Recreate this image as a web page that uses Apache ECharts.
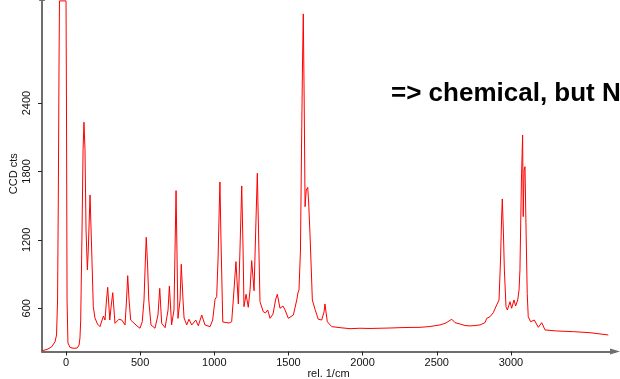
<!DOCTYPE html>
<html>
<head>
<meta charset="utf-8">
<script src="https://cdn.jsdelivr.net/npm/echarts@6/dist/echarts.min.js"></script>
<style>
html,body{margin:0;padding:0;background:#fff;}
#c{width:620px;height:379px;}
</style>
</head>
<body>
<div id="c"></div>
<script>
// Raman shift (rel. 1/cm)
var shifts = [-162,-128,-96,-74,-64,-57,-52,-47,-44,0,3,7,13,27,54,76,88,94,99,108,115,121,128,135,144,150,162,173,184,195,212,229,252,263,273,281,295,303,315,330,357,376,398,408,416,425,436,465,479,499,514,526,535,541,550,558,573,600,620,632,645,668,688,697,712,728,735,742,748,755,769,777,789,796,814,829,848,875,892,915,937,971,989,1005,1016,1025,1033,1038,1045,1057,1079,1099,1117,1128,1146,1162,1173,1185,1194,1200,1214,1229,1241,1252,1268,1281,1290,1298,1308,1330,1345,1360,1376,1396,1413,1425,1443,1454,1463,1477,1499,1533,1556,1564,1571,1581,1588,1595,1600,1606,1612,1620,1630,1637,1645,1654,1661,1679,1701,1724,1740,1746,1753,1762,1792,1848,1915,1982,2050,2117,2185,2252,2320,2387,2454,2522,2562,2601,2623,2657,2690,2724,2758,2792,2825,2837,2859,2881,2904,2920,2930,2937,2942,2949,2956,2967,2976,2994,3005,3021,3032,3046,3055,3061,3071,3079,3083,3089,3095,3101,3110,3117,3133,3158,3185,3208,3230,3309,3421,3533,3657];
// CCD counts
var counts = [228,239,263,307,366,673,1550,2778,3296,3296,2427,673,296,256,249,252,278,339,497,1287,1989,2232,1989,1287,936,1111,1594,1111,614,515,462,439,532,497,673,784,497,603,737,468,504,497,454,673,886,673,497,462,445,425,482,673,1024,1223,980,673,454,425,541,775,468,430,585,796,454,585,1111,1632,1111,512,673,986,673,515,454,504,454,497,447,541,454,439,497,679,702,1024,1462,1708,1199,480,475,471,482,673,1009,638,1111,1673,1111,614,723,609,761,1018,754,1375,1784,1287,658,570,559,585,512,550,673,723,600,594,620,585,512,541,673,734,761,1111,1989,2778,3182,2427,1491,1638,1661,1506,1258,936,673,591,504,497,568,638,568,482,439,430,421,425,423,425,427,430,432,433,440,454,471,504,474,462,449,445,449,454,474,512,526,561,629,673,1024,1375,1559,1287,936,614,585,658,600,673,620,673,761,936,1725,2120,1404,1813,1842,1375,732,526,482,497,433,474,410,401,395,386,366];
var xTicks = [0,500,1000,1500,2000,2500,3000];
var yTicks = [600,1200,1800,2400];

var data = shifts.map(function(x,i){return [x, counts[i]];});
var chart = echarts.init(document.getElementById('c'), null, {renderer:'canvas'});
var font = 'Liberation Sans, Arial, Helvetica, sans-serif';
function plain(v){return String(v);}
chart.setOption({
  animation:false,
  backgroundColor:'#ffffff',
  grid:{left:42,right:5,top:-4,bottom:27.5,containLabel:false,outerBoundsMode:'none'},
  xAxis:{
    type:'value', min:-162, max:3702,
    name:'rel. 1/cm', nameLocation:'middle', nameGap:17, nameMoveOverlap:false,
    nameTextStyle:{fontFamily:font,fontSize:11,color:'#111'},
    axisLine:{show:true,onZero:false,symbol:['none','triangle'],symbolSize:[6,10],lineStyle:{color:'#6e6e6e',width:2}},
    axisTick:{show:true,customValues:xTicks,length:4,lineStyle:{color:'#222',width:1}},
    axisLabel:{show:true,customValues:xTicks,formatter:plain,margin:6,fontFamily:font,fontSize:11,color:'#111'},
    splitLine:{show:false}
  },
  yAxis:{
    type:'value', min:221, max:3339,
    name:'CCD cts', nameLocation:'middle', nameGap:23, nameRotate:90, nameMoveOverlap:false,
    nameTextStyle:{fontFamily:font,fontSize:11,color:'#111'},
    axisLine:{show:true,onZero:false,symbol:['none','triangle'],symbolSize:[6,10],lineStyle:{color:'#6e6e6e',width:2}},
    axisTick:{show:true,customValues:yTicks,length:4,lineStyle:{color:'#222',width:1}},
    axisLabel:{show:true,customValues:yTicks,formatter:plain,rotate:90,margin:10,fontFamily:font,fontSize:11,color:'#111'},
    splitLine:{show:false}
  },
  graphic:[{
    type:'text', left:391, top:81,
    style:{text:'=> chemical, but N', font:'bold 26px Liberation Sans, Arial, sans-serif', fill:'#000'}
  }],
  series:[{
    type:'line', data:data, showSymbol:false, symbol:'none',
    lineStyle:{color:'#ff0000',width:1}, clip:true, silent:true
  }]
});
</script>
</body>
</html>
